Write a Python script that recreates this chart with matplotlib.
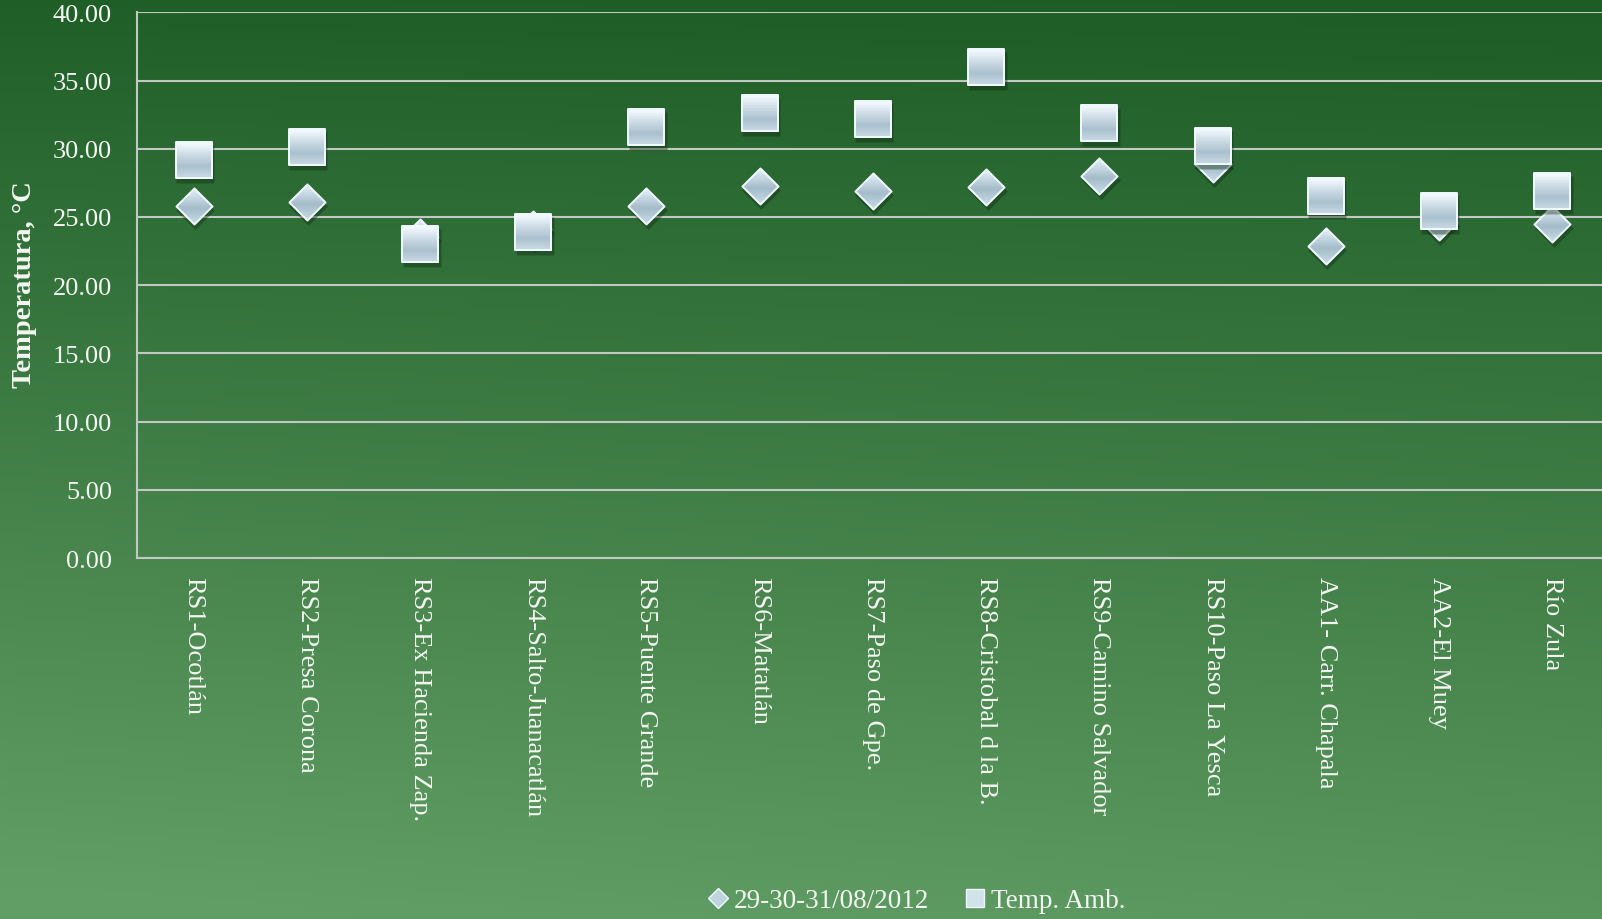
import numpy as np
import matplotlib
matplotlib.use("Agg")
import matplotlib.pyplot as plt
from matplotlib.path import Path
from matplotlib.lines import Line2D
from matplotlib import transforms

# ---- data ----
categories = ["RS1-Ocotlán", "RS2-Presa Corona", "RS3-Ex Hacienda Zap.",
              "RS4-Salto-Juanacatlán", "RS5-Puente Grande", "RS6-Matatlán",
              "RS7-Paso de Gpe.", "RS8-Cristobal d la B.", "RS9-Camino Salvador",
              "RS10-Paso La Yesca", "AA1- Carr. Chapala", "AA2-El Muey", "Río Zula"]
agua_2012 = [25.8, 26.1, 23.5, 24.1, 25.8, 27.3, 26.9, 27.2, 28.0, 28.9, 22.9, 24.6, 24.5]
temp_amb = [29.2, 30.1, 23.0, 23.9, 31.6, 32.6, 32.2, 36.0, 31.9, 30.2, 26.5, 25.4, 26.9]
series_labels = ["29-30-31/08/2012", "Temp. Amb."]
y_ticks = [0, 5, 10, 15, 20, 25, 30, 35, 40]
y_label = "Temperatura, °C"

FONT = "Liberation Serif"
TXT = "#f4f6f2"
plt.rcParams["font.family"] = [FONT, "DejaVu Serif"]

W, H = 1602, 920
fig = plt.figure(figsize=(W / 100, H / 100), dpi=100)

# ---- background gradient ----
bg = fig.add_axes([0, 0, 1, 1], zorder=-10)
yy, xx = np.mgrid[0:1:200j, 0:1:200j]
t = np.clip(0.88 * yy + 0.12 * (1 - xx) * yy + 0.04 * (1 - xx), 0, 1)
top = np.array([30, 92, 38]) / 255
bot = np.array([96, 158, 101]) / 255
img = top[None, None, :] * (1 - t[..., None]) + bot[None, None, :] * t[..., None]
bg.imshow(img, aspect="auto", extent=[0, 1, 0, 1], origin="upper")
bg.set_axis_off()

# ---- main axes ----
left = 137 / W
bottom = 1 - 559 / H
height = (559 - 13.3) / H
ax = fig.add_axes([left, bottom, 1 - left, height])
ax.set_facecolor("none")
x = np.arange(len(categories))
ax.set_xlim(-0.5, 12.44)
ax.set_ylim(0, 40)
ax.set_yticks(y_ticks)
ax.set_yticklabels([f"{v:.2f}" for v in y_ticks])
ax.set_xticks(x)
ax.set_xticklabels(categories, rotation=-90, ha="center", va="top")
ax.tick_params(axis="y", length=0, pad=18, labelsize=19, labelcolor=TXT)
ax.tick_params(axis="x", length=0, pad=13, labelsize=19, labelcolor=TXT)
ax.grid(axis="y", color="#c4c8c4", lw=1.5, zorder=0)
ax.set_axisbelow(True)
for s in ["top", "right"]:
    ax.spines[s].set_visible(False)
ax.spines["left"].set_color("#c4c8c4")
ax.spines["left"].set_linewidth(1.5)
ax.spines["bottom"].set_color("#c4c8c4")
ax.spines["bottom"].set_linewidth(1.5)


def lower_path(shape, b):
    """Part of the unit shape lying below y=b (marker coords, y up)."""
    if shape == "s":
        poly = [(-0.5, -0.5), (0.5, -0.5), (0.5, b), (-0.5, b)]
    else:
        w = 0.5 - abs(b)
        if b <= 0:
            poly = [(0, -0.5), (w, b), (-w, b)]
        else:
            poly = [(0, -0.5), (0.5, 0), (w, b), (-w, b), (-0.5, 0)]
    verts = [(0.5, 0.5)] + poly + [poly[0]]
    codes = [Path.MOVETO, Path.MOVETO] + [Path.LINETO] * (len(poly) - 1) + [Path.CLOSEPOLY]
    return Path(verts, codes)


def outline_path(shape):
    if shape == "s":
        poly = [(-0.5, -0.5), (0.5, -0.5), (0.5, 0.5), (-0.5, 0.5)]
    else:
        poly = [(0, -0.5), (0.5, 0), (0, 0.5), (-0.5, 0)]
    return Path(poly + [poly[0]], [Path.MOVETO] + [Path.LINETO] * 3 + [Path.CLOSEPOLY])


def grad_color(stops, tt):
    ts = [s[0] for s in stops]
    cs = np.array([s[1] for s in stops]) / 255
    return tuple(np.array([np.interp(tt, ts, cs[:, k]) for k in range(3)]))


def draw_markers(vals, shape, stops, ms, z):
    shadow_tr = transforms.offset_copy(ax.transData, fig=fig, x=1.5, y=-4, units="dots")
    ax.plot(x, vals, ls="none", marker=outline_path(shape), ms=ms + 2,
            mfc="#0d2a10", mec="none", alpha=0.4, transform=shadow_tr, zorder=z)
    n = 24
    edges = np.linspace(0.5, -0.5, n + 1)
    for i in range(n):
        b_ = edges[i]
        tt = i / (n - 1)
        ax.plot(x, vals, ls="none", marker=lower_path(shape, b_), ms=ms,
                mfc=grad_color(stops, tt), mec="none", zorder=z + 0.1)
    ax.plot(x, vals, ls="none", marker=outline_path(shape), ms=ms,
            mfc="none", mec="#f2faff", mew=1.4, zorder=z + 0.2)


diamond_stops = [(0.0, (226, 241, 248)), (0.55, (164, 187, 201)), (1.0, (200, 222, 232))]
square_stops = [(0.0, (244, 251, 255)), (0.65, (170, 192, 206)), (1.0, (200, 218, 228))]
draw_markers(agua_2012, "D", diamond_stops, 26, 3)
draw_markers(temp_amb, "s", square_stops, 26, 4)

# ---- y label ----
fig.text(25 / W, 1 - 285 / H, y_label, rotation=90, ha="center", va="center",
         fontsize=20.5, fontweight="bold", color=TXT)

# ---- legend ----
handles = [
    Line2D([], [], ls="none", marker="D", ms=10, mfc="#c0d4de", mec="#f2faff", mew=1),
    Line2D([], [], ls="none", marker="s", ms=13, mfc="#d2e2ea", mec="#f2faff", mew=1),
]
fig.legend(handles, series_labels, loc="center", bbox_to_anchor=(0.572, 0.02),
           ncol=2, frameon=False, fontsize=19.5, labelcolor=TXT,
           handlelength=0.8, handletextpad=0.2, columnspacing=1.3, borderpad=0)

fig.savefig("out.png", dpi=100)
